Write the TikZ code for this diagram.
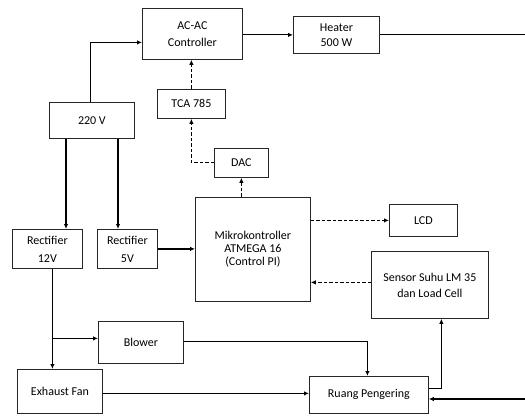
\documentclass[tikz,border=0pt]{standalone}
\usepackage{fontspec}
\setmainfont{Carlito}
\usetikzlibrary{positioning,calc,arrows.meta}
\tikzset{
  blok/.style={draw=black!85,line width=0.8pt,fill=white,align=center,inner sep=1pt,
               font=\fontsize{12}{15}\selectfont,anchor=north west},
  arr/.style={line width=1.2pt,-{Latex[length=5pt,width=4.5pt]}},
  darr/.style={arr,dash pattern=on 3.5pt off 2pt},
  wire/.style={line width=1.2pt},
}
% box from its top left corner: name, x, y, width, height, text
\newcommand{\kotak}[6]{%
  \node[blok,minimum width=#4pt,minimum height=#5pt] (#1) at (#2,#3) {#6};
}

\begin{document}
\begin{tikzpicture}[x=1pt,y=-1pt]
  \useasboundingbox (0,0) rectangle (525,417);
  \kotak{ac}{142}{8}{100}{51}{AC-AC\\[2pt]Controller}
  \kotak{heater}{293}{16}{86}{37}{Heater\\500 W}
  \kotak{sumber}{49}{102}{85}{36}{220 V}
  \kotak{tca}{157}{89}{68}{29}{TCA 785}
  \kotak{dac}{214}{148}{54}{29}{DAC}
  \kotak{mcu}{195}{197}{115}{104}{Mikrokontroller\\[-2pt]ATMEGA 16\\[-2pt](Control PI)}
  \kotak{lcd}{389}{204}{68}{32}{LCD}
  \kotak{sensor}{371}{251}{117}{67}{Sensor Suhu LM 35\\[1pt]dan Load Cell}
  \kotak{rect12}{12}{229}{70}{39}{Rectifier\\[3pt]12V}
  \kotak{rect5}{97}{229}{60}{39}{Rectifier\\[3pt]5V}
  \kotak{blower}{98}{321}{85}{42}{Blower}
  \kotak{exhaust}{17}{369}{85}{44}{Exhaust Fan}
  \kotak{ruang}{309}{376}{119}{37}{Ruang Pengering}
  % loose ends at the right border
  \coordinate (kananA) at (525,33);
  \coordinate (kananB) at (525,399);

  % power lines
  \draw[arr] ($(sumber.north)+(-1.5,0)$) |- ($(ac.west)+(0,8.5)$);
  \draw[arr] (ac.east |- heater.west) -- (heater.west);
  \draw[wire] (heater.east) -- (heater.east -| kananA);
  \draw[arr] ($(sumber.south west)+(17,0)$) coordinate (t12) -- (t12 |- rect12.north);
  \draw[arr] ($(sumber.south west)+(69,0)$) coordinate (t5) -- (t5 |- rect5.north);
  \draw[arr] (rect5.east) -- (rect5.east -| mcu.west);
  \draw[arr] ($(rect12.south)+(5,0)$) coordinate (d12) -- (d12 |- exhaust.north);
  \draw[arr] ($(d12 |- blower.west)+(0,-4)$) coordinate (cb) -- (cb -| blower.west);
  \draw[arr] ($(blower.east)+(0,-1)$) -| ($(ruang.north)+(-1.5,0)$);
  \draw[arr] ($(exhaust.east)+(0,2)$) coordinate (ce) -- (ce -| ruang.west);
  \draw[arr] ($(ruang.east)+(0,-6.5)$) -| ($(sensor.south)+(11.5,0)$);
  \draw[arr] (kananB) -- (kananB -| ruang.east);

  % control signals
  \draw[darr] (tca.north) -- (tca.north |- ac.south);
  \draw[darr] (dac.west) -| (tca.south);
  \draw[darr] (dac.south |- mcu.north) -- (dac.south);
  \draw[darr] (lcd.west -| mcu.east) -- (lcd.west);
  \draw[darr] ($(sensor.west)+(0,-2.5)$) coordinate (cs) -- (cs -| mcu.east);
\end{tikzpicture}
\end{document}
